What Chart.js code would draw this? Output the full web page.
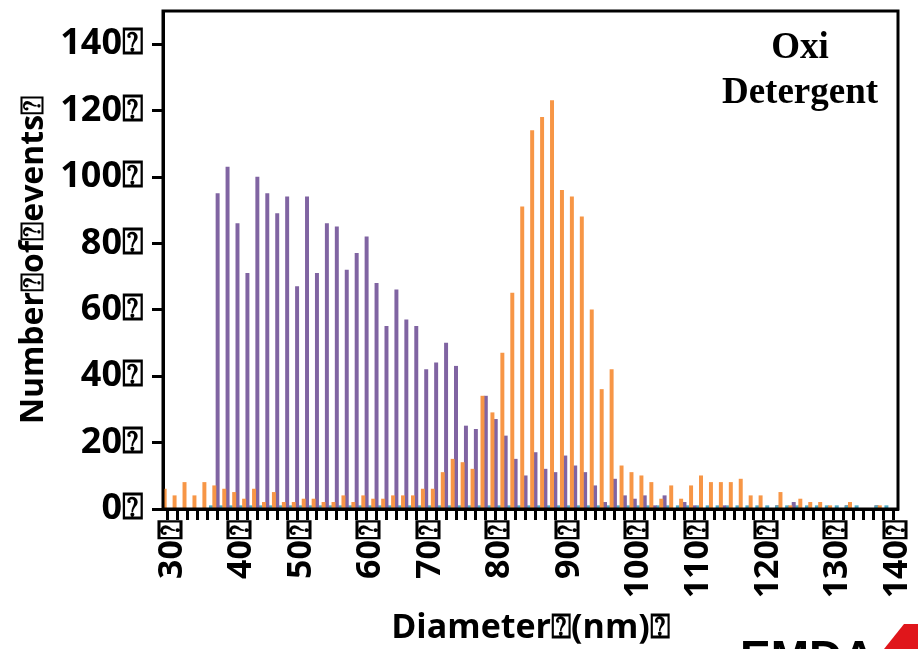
<!DOCTYPE html>
<html>
<head>
<meta charset="utf-8">
<script src="https://cdn.jsdelivr.net/npm/chart.js@4"></script>
<style>
  html, body { margin: 0; padding: 0; background: #fff; }
</style>
</head>
<body>
<canvas id="sizeChart" width="918" height="649"></canvas>
<script>
// tick labels on the diameter axis and the bin each one sits under
const tickValues = [30, 40, 50, 60, 70, 80, 90, 100, 110, 120, 130, 140];
const tickSlots = [0, 7, 13, 20, 26, 33, 40, 47, 53, 60, 67, 73];

// event counts per size bin (74 bins)
const countsOrange = [6, 4, 8, 4, 8, 7, 6, 5, 3, 6,
  2, 5, 2, 2, 3, 3, 2, 2, 4, 2,
  4, 3, 3, 4, 4, 4, 6, 6, 11, 15,
  14, 12, 34, 29, 47, 65, 91, 114, 118, 123,
  96, 94, 88, 60, 36, 42, 13, 11, 10, 8,
  3, 7, 3, 7, 10, 8, 8, 8, 9, 4,
  4, 0, 5, 1, 3, 2, 2, 1, 0, 2,
  0, 0, 1, 0];
const countsPurple = [0, 0, 0, 0, 0, 95, 103, 86, 71, 100,
  95, 89, 94, 67, 94, 71, 86, 85, 72, 77,
  82, 68, 55, 66, 57, 55, 42, 44, 50, 43,
  25, 24, 34, 27, 22, 15, 10, 17, 12, 11,
  16, 13, 11, 7, 2, 9, 4, 3, 4, 1,
  4, 0, 2, 1, 0, 0, 1, 0, 0, 0,
  0, 0, 0, 2, 0, 0, 0, 0, 0, 0,
  0, 0, 0, 0];
const countsTeal = [0, 0, 0, 0, 1, 1, 1, 1, 1, 1,
  1, 1, 1, 1, 1, 1, 1, 1, 1, 1,
  1, 1, 1, 1, 1, 1, 1, 1, 1, 1,
  1, 1, 1, 1, 1, 1, 1, 1, 1, 1,
  1, 1, 1, 1, 1, 1, 1, 1, 1, 1,
  1, 1, 1, 1, 1, 1, 1, 1, 1, 1,
  1, 1, 1, 1, 1, 1, 1, 1, 1, 1,
  0, 1, 1, 0];
const countsRed = [0, 0, 0, 0, 0, 0, 0, 0, 0, 0,
  0, 0, 0, 0, 0, 0, 0, 0, 0, 0,
  0, 0, 0, 0, 0, 0, 0, 0, 0, 0,
  0, 0, 0, 0, 0, 0, 0, 0, 0, 0,
  0, 0, 0, 0, 0, 0, 0, 0, 0, 0,
  0, 0, 0, 0, 0, 0, 0, 0, 0, 0,
  0, 1, 0, 0, 0, 0, 0, 0, 1, 0,
  0, 1, 0, 0];

const box = '\u2370';
const binLabels = countsOrange.map((_, i) => {
  const k = tickSlots.indexOf(i);
  return k < 0 ? '' : tickValues[k] + box;
});

const fontFamily = '"Open Sans", sans-serif';
const axisFont = { family: fontFamily, size: 34, weight: 'bold' };

// box around the plot, sample name and the cut-off logo underneath
const extras = {
  id: 'extras',
  afterDraw(chart) {
    const { ctx, chartArea: a } = chart;
    ctx.save();
    ctx.strokeStyle = '#000';
    ctx.lineWidth = 3;
    ctx.strokeRect(a.left, a.top, a.right - a.left, a.bottom - a.top);

    ctx.fillStyle = '#000';
    ctx.textAlign = 'center';
    ctx.textBaseline = 'alphabetic';
    ctx.font = 'bold 37px "Liberation Serif", serif';
    ctx.fillText('Oxi', a.right - 98, a.top + 47);
    ctx.fillText('Detergent', a.right - 98, a.top + 92);

    ctx.textAlign = 'left';
    ctx.font = 'bold 46px "Liberation Sans", sans-serif';
    ctx.fillText('EMDA', 740, 673);
    ctx.fillStyle = '#e0161b';
    ctx.beginPath();
    ctx.moveTo(884, 649);
    ctx.lineTo(904, 624);
    ctx.lineTo(918, 624);
    ctx.lineTo(918, 649);
    ctx.closePath();
    ctx.fill();
    ctx.restore();
  }
};

new Chart(document.getElementById('sizeChart'), {
  type: 'bar',
  data: {
    labels: binLabels,
    datasets: [
      { label: 'orange', data: countsOrange, backgroundColor: '#f79646', stack: 'a' },
      { label: 'purple', data: countsPurple, backgroundColor: '#8064a2', stack: 'b' },
      { label: 'teal', data: countsTeal, backgroundColor: '#4bacc6', stack: 'c' },
      { label: 'red', data: countsRed, backgroundColor: '#c0504d', stack: 'c' }
    ]
  },
  options: {
    responsive: false,
    animation: false,
    devicePixelRatio: 1,
    layout: { padding: { top: 11, right: 20, left: 0, bottom: 0 } },
    datasets: { bar: { categoryPercentage: 1.0, barPercentage: 1.0 } },
    plugins: {
      legend: { display: false },
      tooltip: { enabled: false }
    },
    scales: {
      x: {
        afterFit(scale) {
          scale.height = 140;
          scale.paddingLeft = 0;
          scale.paddingRight = 0;
        },
        grid: { display: true, offset: false, drawOnChartArea: false, tickLength: 11, tickWidth: 3, tickColor: '#000' },
        border: { display: true, color: '#000', width: 3 },
        ticks: {
          autoSkip: false, maxRotation: 90, minRotation: 90,
          padding: 0, labelOffset: 4, color: '#000', font: axisFont
        },
        title: {
          display: true, text: 'Diameter' + box + '(nm)' + box,
          color: '#000', font: axisFont, padding: { top: 0, bottom: 0 }
        }
      },
      y: {
        min: 0,
        max: 150,
        stacked: false,
        afterFit(scale) {
          scale.width = 163;
          scale.paddingTop = 0;
          scale.paddingBottom = 0;
        },
        grid: { display: true, drawOnChartArea: false, tickLength: 11, tickWidth: 3, tickColor: '#000' },
        border: { display: true, color: '#000', width: 3 },
        ticks: {
          stepSize: 20, includeBounds: false, padding: 8,
          color: '#000', font: { family: fontFamily, size: 36, weight: 'bold' },
          callback: v => v + box
        },
        title: {
          display: true, text: 'Number' + box + 'of' + box + 'events' + box,
          color: '#000', font: { family: fontFamily, size: 32, weight: 'bold' },
          padding: { top: 15, bottom: 0 }
        }
      }
    }
  },
  plugins: [extras]
});
</script>
</body>
</html>
